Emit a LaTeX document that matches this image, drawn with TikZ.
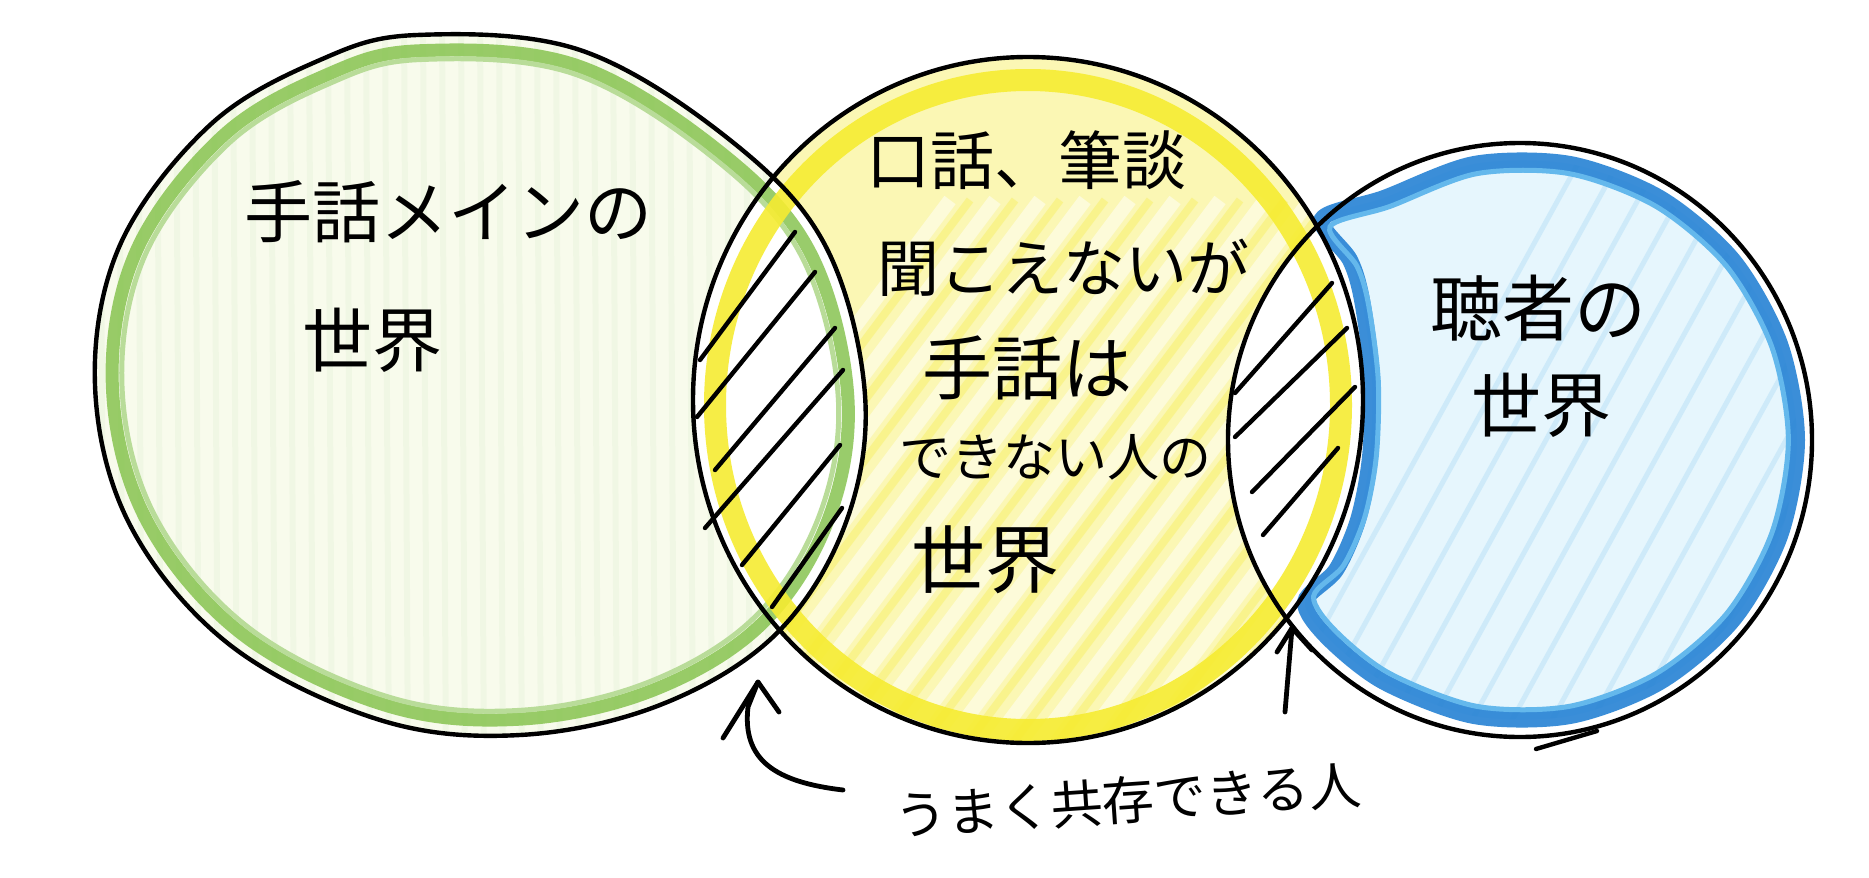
\documentclass[tikz,border=0pt]{standalone}
\usepackage{fontspec}
\newfontfamily\jp{Noto Sans CJK JP}
\usetikzlibrary{arrows.meta}
\definecolor{greenring}{RGB}{128,192,70}
\definecolor{greenfill}{RGB}{248,251,236}
\definecolor{yellowring}{RGB}{246,236,50}
\definecolor{yellowfill}{RGB}{251,247,180}
\definecolor{bluering}{RGB}{38,130,212}
\definecolor{bluelight}{RGB}{100,184,236}
\definecolor{bluefill}{RGB}{230,246,253}
\newcommand\leftcurve{plot[smooth cycle, tension=0.6] coordinates {(-63,-350) (100,-335) (250,-245) (345,-140) (385,10) (365,140) (295,250) (180,320) (40,350) (-100,335) (-250,260) (-350,140) (-385,0) (-360,-140) (-270,-260) (-160,-325)}}
\newcommand\bluecurve{plot[smooth cycle, tension=0.5] coordinates {(1322,219) (1350,260) (1362,300) (1372,378) (1370,457) (1358,520) (1336,570) (1305,602) (1328,638) (1384,682) (1474,716) (1570,716) (1660,682) (1733,620) (1780,536) (1797,440) (1780,344) (1733,260) (1660,198) (1570,164) (1474,164) (1384,198)}}
\begin{document}
\begin{tikzpicture}[x=0.5pt,y=-0.5pt,
  outline/.style={line width=2.2pt, draw=black},
  hatchline/.style={line width=2.2pt, draw=black, line cap=round},
  lbl/.style={inner sep=0pt, text=black},
  arrowline/.style={line width=2.4pt, line cap=round, line join=round}]
\useasboundingbox (0,0) rectangle (1869,878);
\fill[white] (0,0) rectangle (1869,878);

% fills
\fill[greenfill, shift={(480,385)}] \leftcurve;
\fill[yellowfill] (1028,400) ellipse [x radius=335, y radius=343];
\fill[bluefill] \bluecurve;

% pencil streaks
\begin{scope}
  \clip[shift={(480,385)}] \leftcurve;
  \foreach \i in {0,...,40} {
    \draw[greenring!20, line width=3pt, opacity=0.4] (100+\i*19, 20) -- ++(4,760);
  }
\end{scope}
\begin{scope}
  \clip (1028,400) ellipse [x radius=335, y radius=343];
  \foreach \i in {0,...,26} {
    \draw[white, line width=7pt, opacity=0.5] (500+\i*45, 800) -- ++(450,-600);
  }
  \foreach \i in {0,...,26} {
    \draw[yellowring, line width=4pt, opacity=0.3] (520+\i*45, 800) -- ++(450,-600);
  }
\end{scope}
\begin{scope}
  \clip \bluecurve;
  \foreach \i in {0,...,22} {
    \draw[bluelight, line width=2.5pt, opacity=0.18] (1250+\i*40, 760) -- ++(330,-600);
  }
\end{scope}

% lenses (white)
\begin{scope}
  \clip (1028,400) ellipse [x radius=335, y radius=343];
  \fill[white, shift={(480,385)}] \leftcurve;
  \fill[white] (1520,440) ellipse [x radius=292, y radius=297];
\end{scope}

% coloured rings
\draw[greenring, line width=6.5pt, opacity=0.8, shift={(480,385)}, scale=0.955] \leftcurve;
\draw[greenring!55, line width=2.5pt, shift={(480,385)}, scale=0.93] \leftcurve;
\draw[yellowring, line width=11pt, opacity=0.9] (1028,405) ellipse [x radius=313, y radius=325];
\draw[bluering, line width=8pt, opacity=0.9] \bluecurve;
\draw[bluelight, line width=2.5pt, shift={(1550,440)}, scale=0.965, shift={(-1550,-440)}] \bluecurve;

% black outlines
\draw[outline, shift={(480,385)}] \leftcurve;
\draw[outline] (1028,400) ellipse [x radius=335, y radius=343];
\draw[outline] (1520,440) ellipse [x radius=292, y radius=297];
\draw[outline, line cap=round] (1597,731) -- (1536,749);

% hatching in left lens
\draw[hatchline] (700,360) -- (795,232);
\draw[hatchline] (697,417) -- (815,272);
\draw[hatchline] (715,470) -- (835,328);
\draw[hatchline] (705,528) -- (843,370);
\draw[hatchline] (742,565) -- (840,445);
\draw[hatchline] (772,607) -- (842,508);
% hatching in right lens
\draw[hatchline] (1235,393) -- (1332,283);
\draw[hatchline] (1235,437) -- (1347,328);
\draw[hatchline] (1252,492) -- (1355,387);
\draw[hatchline] (1263,535) -- (1338,448);

% texts
\node[lbl, font=\jp\fontsize{34pt}{40pt}\selectfont] (t1) at (448,212) {手話メインの};
\node[lbl, font=\jp\fontsize{35pt}{40pt}\selectfont] (t2) at (372,340) {世界};
\node[lbl, font=\jp\fontsize{32pt}{40pt}\selectfont] (m1) at (1026,160) {口話、筆談};
\node[lbl, font=\jp\fontsize{31pt}{40pt}\selectfont] (m2) at (1063,268) {聞こえないが};
\node[lbl, font=\jp\fontsize{35pt}{40pt}\selectfont] (m3) at (1027,368) {手話は};
\node[lbl, font=\jp\fontsize{26pt}{40pt}\selectfont] (m4) at (1055,457) {できない人の};
\node[lbl, font=\jp\fontsize{37pt}{40pt}\selectfont] (m5) at (985,560) {世界};
\node[lbl, font=\jp\fontsize{36pt}{40pt}\selectfont] (r1) at (1538,308) {聴者の};
\node[lbl, font=\jp\fontsize{35pt}{40pt}\selectfont] (r2) at (1541,405) {世界};
\node[lbl, font=\jp\fontsize{26pt}{30pt}\selectfont, rotate=4] (b1) at (1128,800) {うまく共存できる人};

% arrows
\coordinate (lefttip) at (758,682);
\coordinate (righttip) at (1292,628);
\coordinate (lefttail) at (843,790);
\coordinate (righttail) at (1285,712);
\draw[arrowline] (lefttail) .. controls (775,782) and (742,760) .. (748,707) -- (lefttip);
\draw[arrowline] (723,738) -- (lefttip) -- (779,712);
\draw[arrowline] (righttail) -- (righttip);
\draw[arrowline] (1277,652) -- (righttip) -- (1312,650);
\end{tikzpicture}
\end{document}
